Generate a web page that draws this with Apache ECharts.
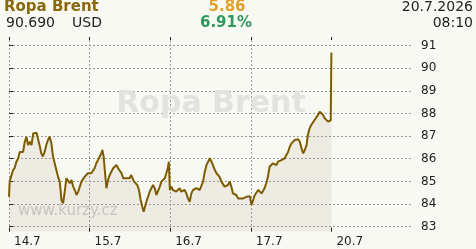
<!DOCTYPE html>
<html>
<head>
<meta charset="utf-8">
<style>
  html, body { margin: 0; padding: 0; background: #f9f9f4; }
  #main { width: 476px; height: 249px; }
</style>
</head>
<body>
<div id="main"></div>
<script src="https://cdn.jsdelivr.net/npm/echarts@6/dist/echarts.min.js"></script>
<script>
// hours from the start of 14.7 (trading sessions only), and Brent price in USD
var hours = [
  0, 0.2, 0.7, 1.2, 1.7, 2.2, 2.7, 3.2, 3.7, 4.2,
  4.7, 5.2, 5.7, 6.2, 6.7, 7.2, 7.7, 8.2, 8.6, 9.1,
  9.6, 10.1, 10.6, 11.1, 11.6, 12.1, 12.6, 13.1, 13.6, 14.1,
  14.6, 15.1, 15.4, 15.6, 16.1, 16.6, 17.1, 17.6, 18.1, 18.6,
  19.1, 19.6, 20.1, 20.6, 21.1, 21.6, 22.0, 22.5, 23.0, 23.5,
  24.0, 24.5, 25.0, 25.5, 26.0, 26.5, 27.0, 27.5, 27.8, 28.2,
  28.6, 29.0, 29.5, 30.0, 30.5, 31.0, 31.5, 32.0, 32.5, 33.0,
  33.5, 34.0, 34.5, 35.0, 35.4, 35.9, 36.4, 36.7, 37.2, 37.7,
  38.2, 38.7, 39.2, 39.7, 40.1, 40.5, 40.9, 41.4, 41.9, 42.4,
  42.9, 43.4, 43.9, 44.4, 44.9, 45.4, 45.9, 46.4, 46.9, 47.3,
  47.6, 47.9, 48.4, 48.8, 49.3, 49.8, 50.3, 50.8, 51.3, 51.8,
  52.3, 52.8, 53.3, 53.8, 54.3, 54.8, 55.3, 55.8, 56.3, 56.8,
  57.3, 57.8, 58.3, 58.8, 59.3, 59.8, 60.3, 60.8, 61.3, 61.8,
  62.2, 62.7, 63.2, 63.7, 64.2, 64.7, 65.2, 65.7, 66.2, 66.7,
  67.2, 67.7, 68.2, 68.7, 69.7, 70.7, 71.7, 72.2, 72.7, 73.2,
  73.7, 74.2, 74.7, 75.2, 75.6, 76.1, 76.6, 77.1, 77.6, 78.1,
  78.6, 79.1, 79.6, 80.1, 80.6, 81.1, 81.6, 82.1, 82.6, 83.1,
  83.6, 84.1, 84.6, 85.1, 85.6, 86.1, 86.6, 87.1, 87.6, 88.1,
  88.6, 89.0, 89.5, 90.0, 90.5, 91.0, 91.5, 92.0, 92.5, 93.0,
  93.5, 94.0, 94.5, 95.0, 95.5, 95.8, 96.0
]
var prices = [
  84.32, 85.0, 85.06, 85.5, 85.6, 85.87, 86.0, 86.3, 86.35, 86.3,
  86.75, 86.97, 86.6, 86.75, 86.6, 87.12, 87.2, 87.15, 87.12, 86.6,
  86.24, 86.1, 86.3, 86.6, 86.83, 86.97, 86.7, 86.1, 85.8, 85.5,
  85.2, 85.0, 84.55, 84.18, 84.03, 84.55, 85.14, 85.06, 84.92, 85.06,
  84.77, 84.62, 84.4, 84.55, 84.58, 85.0, 85.06, 85.2, 85.28, 85.36,
  85.43, 85.36, 85.28, 85.58, 85.8, 85.94, 86.09, 86.24, 86.39, 86.09,
  85.36, 84.7, 85.06, 85.28, 85.43, 85.58, 85.65, 85.72, 85.58, 85.5,
  85.36, 85.14, 85.06, 85.14, 85.1, 85.14, 85.28, 85.36, 85.0, 85.0,
  84.84, 84.62, 84.18, 83.88, 83.66, 83.88, 84.1, 84.32, 84.55, 84.7,
  84.84, 84.7, 84.4, 84.47, 84.77, 85.0, 85.06, 85.14, 85.2, 85.6,
  85.87, 84.62, 84.77, 84.62, 84.62, 84.55, 84.62, 84.7, 84.55, 84.47,
  84.62, 84.47, 84.25, 84.1, 84.47, 84.62, 84.7, 84.7, 84.77, 84.62,
  84.55, 85.0, 85.43, 85.72, 85.87, 86.02, 85.87, 85.8, 85.5, 85.36,
  85.43, 85.2, 85.0, 84.92, 84.77, 84.7, 84.84, 85.0, 84.77, 84.47,
  84.47, 84.4, 84.25, 84.18, 84.25, 84.32, 84.35, 83.96, 84.18, 84.4,
  84.47, 84.62, 84.62, 84.47, 84.4, 84.7, 84.92, 85.2, 85.65, 85.72,
  85.8, 85.82, 85.72, 85.87, 85.94, 85.94, 86.02, 86.02, 86.17, 86.3,
  86.53, 86.68, 86.75, 86.83, 86.9, 86.86, 86.75, 86.46, 86.24, 86.39,
  86.6, 87.05, 87.34, 87.49, 87.56, 87.71, 87.83, 87.93, 88.08, 88.15,
  87.93, 87.79, 87.79, 87.64, 87.56, 87.7, 90.69
]
var dayHours = [0, 24, 48, 72, 96]
var dayLabels = ['14.7', '15.7', '16.7', '17.7', '20.7']
var priceTicks = [83, 84, 85, 86, 87, 88, 89, 90, 91]

var font = 'DejaVu Sans'
var gridColor = '#9a9a9a'
var data = hours.map(function (h, i) { return [h, prices[i]] })

var myChart = echarts.init(document.getElementById('main'))
myChart.setOption({
  backgroundColor: '#f9f9f4',
  animation: false,
  grid: { left: 9, right: 64, top: 40, bottom: 17.3 },
  xAxis: [{
    type: 'value',
    min: 0,
    max: 120,
    interval: 24,
    axisLine: { show: false },
    axisTick: { inside: true, length: 4, customValues: dayHours, lineStyle: { color: '#222' } },
    axisLabel: {
      customValues: dayHours,
      align: 'left',
      margin: 4,
      padding: [0, 0, 0, 5],
      color: '#222',
      fontFamily: font,
      fontSize: 12,
      formatter: function (v) { return dayLabels[dayHours.indexOf(v)] || '' }
    },
    splitLine: { show: true, showMaxLine: false, lineStyle: { color: gridColor, type: [2, 2], width: 1 } }
  }, {
    type: 'value',
    position: 'top',
    min: 0,
    max: 120,
    interval: 24,
    axisLine: { show: false },
    axisTick: { length: 3, customValues: dayHours, lineStyle: { color: '#222' } },
    axisLabel: { show: false },
    splitLine: { show: false }
  }],
  yAxis: [{
    type: 'value',
    position: 'right',
    min: 82.779,
    max: 91.243,
    axisLine: { show: false },
    axisTick: { show: true, length: 4, customValues: priceTicks, lineStyle: { color: '#222' } },
    axisLabel: {
      customValues: priceTicks,
      margin: 9,
      color: '#222',
      fontFamily: font,
      fontSize: 12
    },
    splitLine: { show: true, lineStyle: { color: gridColor, type: [2, 2], width: 1 } }
  }, {
    type: 'value',
    position: 'left',
    min: 82.779,
    max: 91.243,
    axisLine: { show: false },
    axisTick: { show: true, inside: true, length: 2, customValues: priceTicks, lineStyle: { color: '#222' } },
    axisLabel: { show: false },
    splitLine: { show: false }
  }],
  graphic: [
    { type: 'text', left: 4, top: 0, z: 10, style: { text: 'Ropa Brent', fill: '#8a6a0c', font: 'bold 15px "DejaVu Sans"' } },
    { type: 'text', left: 6, top: 16, z: 10, style: { text: '90.690', fill: '#222', font: '14px "DejaVu Sans"' } },
    { type: 'text', left: 72, top: 16, z: 10, style: { text: 'USD', fill: '#222', font: '14px "DejaVu Sans"' } },
    { type: 'text', x: 227, y: 0, z: 10, style: { text: '5.86', fill: '#e0a228', font: 'bold 15px "DejaVu Sans"', align: 'center' } },
    { type: 'text', x: 226, y: 16, z: 10, style: { text: '6.91%', fill: '#2e9a5e', font: 'bold 15px "DejaVu Sans"', align: 'center' } },
    { type: 'text', right: 3, top: 0, z: 10, style: { text: '20.7.2026', fill: '#222', font: '14px "DejaVu Sans"' } },
    { type: 'text', right: 3, top: 16, z: 10, style: { text: '08:10', fill: '#222', font: '14px "DejaVu Sans"' } },
    // watermarks
    { type: 'text', x: 211, y: 104, z: 1, style: { text: 'Ropa Brent', fill: '#e2e2e0', font: 'bold 30px "DejaVu Sans"', align: 'center', verticalAlign: 'middle' } },
    { type: 'text', x: 18, y: 211, z: 1, style: { text: 'www.kurzy.cz', fill: '#c4c4c0', font: '15px "DejaVu Sans"', verticalAlign: 'middle' } }
  ],
  series: [{
    name: 'fill',
    type: 'line',
    z: -1,
    data: data,
    showSymbol: false,
    lineStyle: { width: 0 },
    areaStyle: { color: '#eeebe2', opacity: 1, origin: 'start' },
    silent: true
  }, {
    name: 'Ropa Brent',
    type: 'line',
    z: 3,
    data: data,
    showSymbol: false,
    lineStyle: { color: '#7d5c00', width: 2 }
  }]
})
</script>
</body>
</html>
